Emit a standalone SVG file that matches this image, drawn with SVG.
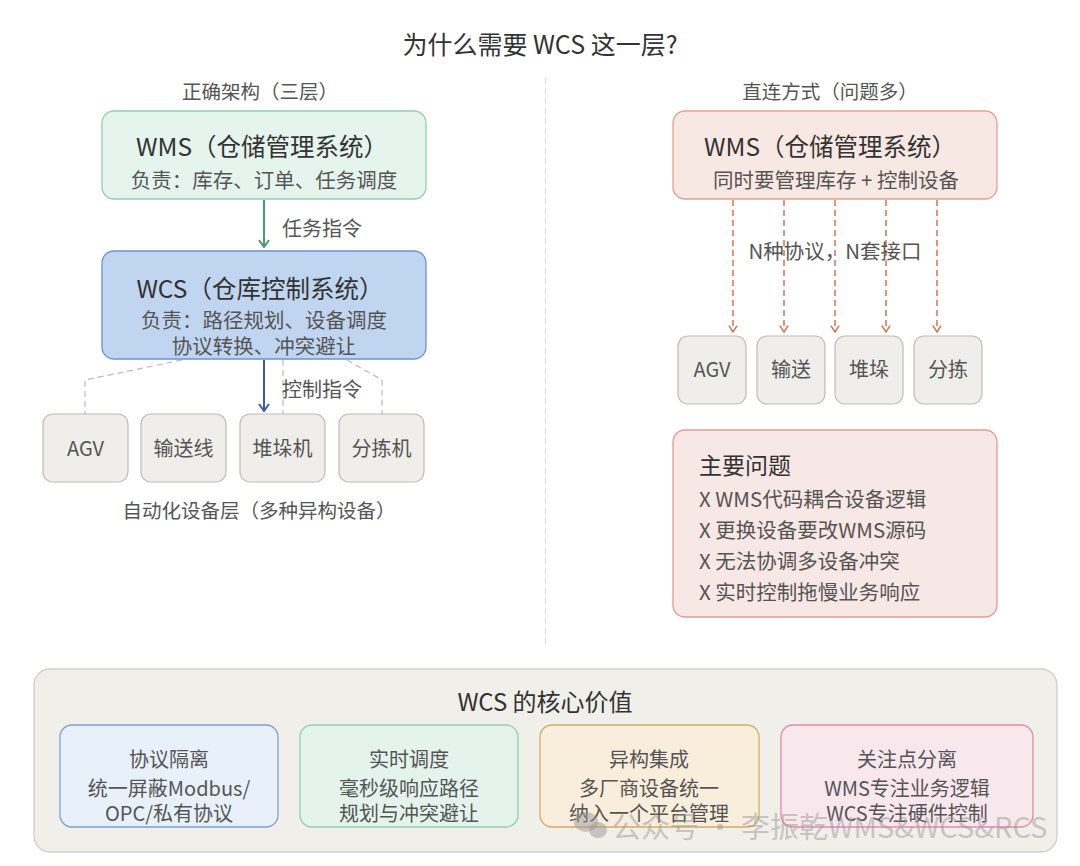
<svg xmlns="http://www.w3.org/2000/svg" width="1080" height="866" viewBox="0 0 1080 866">
<defs>
<style>
text{font-family:"Noto Sans CJK SC","Noto Sans",sans-serif;}
.t{fill:#333;text-anchor:middle;}
.s{fill:#555;text-anchor:middle;}
.l{fill:#555;text-anchor:start;}
.h1{font-size:24.5px;}
.h2{font-size:20.5px;}
.c{font-size:20px;}
.dv{font-size:20px;}
.dev{fill:#efeeea;stroke:#bdbcb6;stroke-width:1.2;}
.gd{fill:none;stroke:#bbb;stroke-width:1.2;stroke-dasharray:6 4;}
.od{fill:none;stroke:#d9724f;stroke-width:1.5;stroke-dasharray:6 4;}
</style>
<marker id="ab" viewBox="0 0 12 12" refX="11" refY="6" markerWidth="12" markerHeight="12" markerUnits="userSpaceOnUse" orient="auto"><path d="M4,1 L11,6 L4,11" fill="none" stroke="#3a5fa0" stroke-width="2"/></marker>
<marker id="agr" viewBox="0 0 12 12" refX="11" refY="6" markerWidth="12" markerHeight="12" markerUnits="userSpaceOnUse" orient="auto"><path d="M4,1 L11,6 L4,11" fill="none" stroke="#4a9a6e" stroke-width="2"/></marker>
<marker id="ao" viewBox="0 0 12 12" refX="11" refY="6" markerWidth="11" markerHeight="11" markerUnits="userSpaceOnUse" orient="auto"><path d="M4,1.5 L11,6 L4,10.5" fill="none" stroke="#d9724f" stroke-width="1.6"/></marker>
</defs>
<rect width="1080" height="866" fill="#ffffff"/>

<text class="t" x="540" y="54" font-size="25">为什么需要 WCS 这一层?</text>
<line x1="545.5" y1="78" x2="545.5" y2="648" stroke="#dcdcdc" stroke-width="1.2" stroke-dasharray="6 4"/>
<text class="s" x="260" y="99" font-size="19.5">正确架构（三层）</text>
<text class="s" x="830" y="99" font-size="19.5">直连方式（问题多）</text>

<g id="connectors">
<line x1="264" y1="200" x2="264" y2="247" stroke="#4a9a6e" stroke-width="2" marker-end="url(#agr)"/>
<line x1="264" y1="360" x2="264" y2="411" stroke="#3a5fa0" stroke-width="2" marker-end="url(#ab)"/>
<polyline class="gd" points="182,360 85,380 85,414"/>
<line class="gd" x1="283" y1="360" x2="283" y2="414"/>
<polyline class="gd" points="347,360 382,380 382,414"/>
<line class="od" x1="733" y1="200" x2="733" y2="332" marker-end="url(#ao)"/>
<line class="od" x1="784" y1="200" x2="784" y2="332" marker-end="url(#ao)"/>
<line class="od" x1="835" y1="200" x2="835" y2="332" marker-end="url(#ao)"/>
<line class="od" x1="886" y1="200" x2="886" y2="332" marker-end="url(#ao)"/>
<line class="od" x1="937" y1="200" x2="937" y2="332" marker-end="url(#ao)"/>
<text class="l" x="282" y="236" font-size="20">任务指令</text>
<text class="l" x="282" y="397" font-size="20">控制指令</text>
<text class="s" x="835" y="259" font-size="20.5">N种协议，N套接口</text>
</g>

<g id="wms-left">
<rect x="102" y="111" width="324" height="88" rx="12" fill="#e6f4ee" stroke="#92d0b2" stroke-width="1.3"/>
<text class="t h1" x="262" y="156">WMS（仓储管理系统）</text>
<text class="s h2" x="264" y="188">负责：库存、订单、任务调度</text>
</g>

<g id="wcs-left">
<rect x="102" y="251" width="324" height="108" rx="12" fill="#c0d5f0" stroke="#6f93d0" stroke-width="1.3"/>
<text class="t h1" x="260" y="298">WCS（仓库控制系统）</text>
<text class="s h2" x="264" y="328">负责：路径规划、设备调度</text>
<text class="s h2" x="264" y="354">协议转换、冲突避让</text>
</g>

<g id="dev-left">
<rect class="dev" x="43" y="414" width="85" height="68" rx="10"/>
<text class="s dv" x="85.5" y="456">AGV</text>
<rect class="dev" x="141" y="414" width="85" height="68" rx="10"/>
<text class="s dv" x="183.5" y="456">输送线</text>
<rect class="dev" x="240" y="414" width="85" height="68" rx="10"/>
<text class="s dv" x="282.5" y="456">堆垛机</text>
<rect class="dev" x="339" y="414" width="85" height="68" rx="10"/>
<text class="s dv" x="381.5" y="456">分拣机</text>
<text class="s" x="259" y="518" font-size="19.5">自动化设备层（多种异构设备）</text>
</g>

<g id="wms-right">
<rect x="673" y="111" width="324" height="88" rx="12" fill="#f8e8e4" stroke="#e3a290" stroke-width="1.3"/>
<text class="t h1" x="830" y="156">WMS（仓储管理系统）</text>
<text class="s h2" x="836" y="188">同时要管理库存 + 控制设备</text>
</g>

<g id="dev-right">
<rect class="dev" x="678" y="336" width="68" height="68" rx="10"/>
<text class="s dv" x="712" y="377">AGV</text>
<rect class="dev" x="757" y="336" width="68" height="68" rx="10"/>
<text class="s dv" x="791" y="377">输送</text>
<rect class="dev" x="835" y="336" width="68" height="68" rx="10"/>
<text class="s dv" x="869" y="377">堆垛</text>
<rect class="dev" x="914" y="336" width="68" height="68" rx="10"/>
<text class="s dv" x="948" y="377">分拣</text>
</g>

<g id="problems">
<rect x="673" y="430" width="324" height="187" rx="12" fill="#f7e7e5" stroke="#e39a92" stroke-width="1.3"/>
<text x="699" y="474" font-size="23" fill="#333">主要问题</text>
<text class="l" x="699" y="507" font-size="20.5">X WMS代码耦合设备逻辑</text>
<text class="l" x="699" y="538" font-size="20.5">X 更换设备要改WMS源码</text>
<text class="l" x="699" y="569" font-size="20.5">X 无法协调多设备冲突</text>
<text class="l" x="699" y="600" font-size="20.5">X 实时控制拖慢业务响应</text>
</g>

<g id="core-value">
<rect x="34" y="669" width="1023" height="183" rx="16" fill="#f0efea" stroke="#cfcfcb" stroke-width="1.3"/>
<text class="t" x="545" y="711" font-size="24">WCS 的核心价值</text>
</g>

<g id="card1">
<rect x="60" y="725" width="218" height="102" rx="12" fill="#e8f0fa" stroke="#7d9fd6" stroke-width="1.3"/>
<text class="s c" x="169" y="767">协议隔离</text>
<text class="s c" x="169" y="796">统一屏蔽Modbus/</text>
<text class="s c" x="169" y="821">OPC/私有协议</text>
</g>
<g id="card2">
<rect x="300" y="725" width="218" height="102" rx="12" fill="#e4f3ec" stroke="#8fcfb0" stroke-width="1.3"/>
<text class="s c" x="409" y="767">实时调度</text>
<text class="s c" x="409" y="796">毫秒级响应路径</text>
<text class="s c" x="409" y="821">规划与冲突避让</text>
</g>
<g id="card3">
<rect x="540" y="725" width="219" height="102" rx="12" fill="#f8eedb" stroke="#d6aa68" stroke-width="1.3"/>
<text class="s c" x="649" y="767">异构集成</text>
<text class="s c" x="649" y="796">多厂商设备统一</text>
<text class="s c" x="649" y="821">纳入一个平台管理</text>
</g>
<g id="card4">
<rect x="781" y="725" width="252" height="102" rx="12" fill="#f8e8ee" stroke="#e08aa8" stroke-width="1.3"/>
<text class="s c" x="907" y="767">关注点分离</text>
<text class="s c" x="907" y="796">WMS专注业务逻辑</text>
<text class="s c" x="907" y="821">WCS专注硬件控制</text>
</g>

<g id="watermark" fill="#999" fill-opacity="0.5">
<ellipse cx="586" cy="822" rx="12" ry="10"/>
<ellipse cx="598" cy="830" rx="9" ry="8"/>
<text x="612" y="838" font-size="29">公众号 · 李振乾WMS&amp;WCS&amp;RCS</text>
</g>
</svg>
